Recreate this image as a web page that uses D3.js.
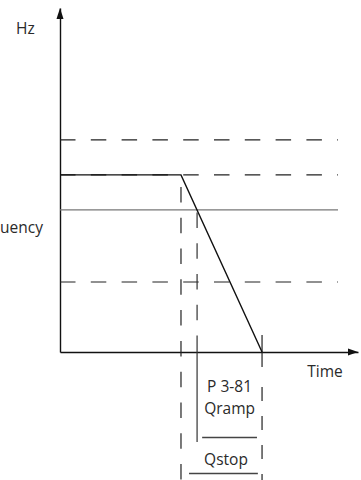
<!DOCTYPE html>
<html>
<head>
<meta charset="utf-8">
<script src="https://cdn.jsdelivr.net/npm/d3@7"></script>
<style>
body { margin: 0; background: #fff; }
svg { display: block; }
text { font-family: "Open Sans", sans-serif; font-size: 15.5px; fill: #2a2a2a; }
</style>
</head>
<body>
<svg class="chart"></svg>
<script>
const timeDomain = [0, 100]
const hzDomain = [0, 115]
// output frequency: steady, then ramps down (Qramp) to zero
const outputTimes = [0, 40.6, 67.8]
const outputHz = [59.2, 59.2, 0]
const dashedLevels = [70.9, 59.2, 23.4]
const qstopHz = 47.5
const levelEnd = 93.3
const stopTime = 40.6
const qstopReached = 46
const zeroTime = 67.8
const qrampSpan = [47.7, 66.1]
const qstopSpan = [43.3, 66.4]
const labels = { hz: 'Hz', freq: 'Frequency', time: 'Time', param: 'P 3-81', qramp: 'Qramp', qstop: 'Qstop' }

const width = 361
const height = 480
const dash = '15.5,15.3'

const x = d3.scaleLinear().domain(timeDomain).range([60, 358])
const y = d3.scaleLinear().domain(hzDomain).range([352, 8])

const chart = d3.select('.chart')
  .attr('width', width)
  .attr('height', height)

// axes, no ticks
chart.append('g').attr('transform', `translate(0,${y(0)})`)
  .call(d3.axisBottom(x).tickValues([]).tickSizeOuter(0))
  .select('.domain').attr('stroke', '#111').attr('stroke-width', 1.4)
chart.append('g').attr('transform', `translate(${x(0)},0)`)
  .call(d3.axisLeft(y).tickValues([]).tickSizeOuter(0))
  .select('.domain').attr('stroke', '#111').attr('stroke-width', 1.4)

const xMax = x(timeDomain[1])
const yMax = y(hzDomain[1])
chart.append('path')
  .attr('d', `M${xMax},${y(0)}L${xMax - 10},${y(0) - 3.5}L${xMax - 10},${y(0) + 3.5}Z`)
  .attr('fill', '#111')
chart.append('path')
  .attr('d', `M${x(0)},${yMax}L${x(0) - 3.5},${yMax + 11}L${x(0) + 3.5},${yMax + 11}Z`)
  .attr('fill', '#111')

// dashed reference levels
chart.append('g').selectAll('line')
  .data(dashedLevels)
  .enter()
  .append('line')
  .attr('x1', x(0))
  .attr('x2', x(levelEnd))
  .attr('y1', d => y(d))
  .attr('y2', d => y(d))
  .attr('stroke', '#222')
  .attr('stroke-width', 1.2)
  .attr('stroke-dasharray', dash)

// Qstop frequency level
chart.append('line')
  .attr('x1', x(0))
  .attr('x2', x(levelEnd))
  .attr('y1', y(qstopHz))
  .attr('y2', y(qstopHz))
  .attr('stroke', '#777')
  .attr('stroke-width', 1.4)

// vertical markers
chart.append('line')
  .attr('x1', x(stopTime)).attr('x2', x(stopTime))
  .attr('y1', y(outputHz[1])).attr('y2', height)
  .attr('stroke', '#222').attr('stroke-width', 1.2)
  .attr('stroke-dasharray', dash).attr('stroke-dashoffset', 18.8)
chart.append('line')
  .attr('x1', x(qstopReached)).attr('x2', x(qstopReached))
  .attr('y1', y(qstopHz)).attr('y2', 337)
  .attr('stroke', '#333').attr('stroke-width', 1.2)
  .attr('stroke-dasharray', dash).attr('stroke-dashoffset', 28.3)
chart.append('line')
  .attr('x1', x(qstopReached)).attr('x2', x(qstopReached))
  .attr('y1', 337).attr('y2', 442)
  .attr('stroke', '#333').attr('stroke-width', 1.2)
chart.append('line')
  .attr('x1', x(zeroTime)).attr('x2', x(zeroTime))
  .attr('y1', 335).attr('y2', 367)
  .attr('stroke', '#222').attr('stroke-width', 1.2)
chart.append('line')
  .attr('x1', x(zeroTime)).attr('x2', x(zeroTime))
  .attr('y1', 387).attr('y2', height)
  .attr('stroke', '#222').attr('stroke-width', 1.2)
  .attr('stroke-dasharray', '14,15')

// output frequency
const line = d3.line().x(d => x(d[0])).y(d => y(d[1]))
chart.append('path')
  .datum(outputTimes.map((t, i) => [t, outputHz[i]]))
  .attr('d', line)
  .attr('fill', 'none')
  .attr('stroke', '#111')
  .attr('stroke-width', 1.4)

// span indicators
const spans = [[qrampSpan, 437.5], [qstopSpan, 473.5]]
chart.append('g').selectAll('line')
  .data(spans)
  .enter()
  .append('line')
  .attr('x1', d => x(d[0][0]))
  .attr('x2', d => x(d[0][1]))
  .attr('y1', d => d[1])
  .attr('y2', d => d[1])
  .attr('stroke', '#444')
  .attr('stroke-width', 1.4)

// labels
chart.append('text').attr('x', 16).attr('y', 34).text(labels.hz)
chart.append('text').attr('x', 43).attr('y', 233).attr('text-anchor', 'end').text(labels.freq)
chart.append('text').attr('x', 325).attr('y', 377).attr('text-anchor', 'middle').text(labels.time)
const mid = (x(qrampSpan[0]) + x(qrampSpan[1])) / 2
chart.append('text').attr('x', mid).attr('y', 392).attr('text-anchor', 'middle').text(labels.param)
chart.append('text').attr('x', mid).attr('y', 414).attr('text-anchor', 'middle').text(labels.qramp)
chart.append('text').attr('x', 226).attr('y', 465).attr('text-anchor', 'middle').text(labels.qstop)
</script>
</body>
</html>
